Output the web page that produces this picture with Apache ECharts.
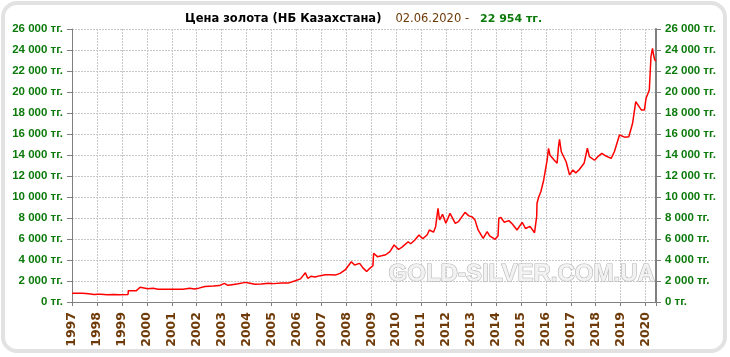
<!DOCTYPE html>
<html><head><meta charset="utf-8">
<script src="https://cdn.jsdelivr.net/npm/echarts@6/dist/echarts.min.js"></script>
<style>html,body{margin:0;padding:0;background:#fff}#c{width:730px;height:357px}</style>
</head><body><div id="c"></div>
<script>
var chartTitle = 'Цена золота (НБ Казахстана)';
var lastDate = '02.06.2020 -';
var lastPrice = '22 954 тг.';
var watermark = 'GOLD-SILVER.COM.UA';
var yearTicks = [1997,1998,1999,2000,2001,2002,2003,2004,2005,2006,2007,2008,2009,2010,2011,2012,2013,2014,2015,2016,2017,2018,2019,2020];

var dates = [
'1997-01-02','1997-03-10','1997-06-01','1997-06-15','1997-09-01','1997-11-20','1998-01-15','1998-03-01','1998-06-01','1998-09-01','1998-12-01',
'1999-04-01','1999-04-06','1999-08-01','1999-09-25','1999-10-20','2000-01-15','2000-02-10','2000-04-01','2000-06-15','2000-12-01','2001-06-15','2001-09-20','2001-12-01',
'2002-02-01','2002-05-01','2002-09-01','2002-12-01','2003-02-10','2003-04-01','2003-06-01','2003-09-01','2003-12-15','2004-02-01','2004-05-01','2004-08-01','2004-11-20',
'2005-02-01','2005-06-01','2005-09-01','2005-12-15','2006-03-01','2006-05-12','2006-06-15','2006-08-01','2006-10-01','2006-12-15','2007-03-01','2007-05-01','2007-08-01','2007-10-01','2007-12-15',
'2008-03-15','2008-05-01','2008-07-15','2008-09-01','2008-10-25','2008-12-01','2009-01-25','2009-02-05','2009-04-01','2009-06-01','2009-08-01','2009-10-01','2009-12-01',
'2010-02-05','2010-04-01','2010-06-25','2010-08-01','2010-10-01','2010-12-01','2011-01-25','2011-04-01','2011-05-01','2011-07-01','2011-08-01','2011-09-05','2011-09-28','2011-11-10','2011-12-29',
'2012-02-28','2012-05-15','2012-07-01','2012-10-05','2012-12-01','2013-01-20','2013-03-01','2013-04-15','2013-06-28','2013-08-25','2013-10-01','2013-12-20',
'2014-02-01','2014-02-12','2014-03-15','2014-05-01','2014-07-10','2014-09-01','2014-11-05','2015-01-20','2015-03-10','2015-05-15','2015-07-20','2015-08-20','2015-08-25','2015-09-20','2015-10-20','2015-12-01',
'2016-01-20','2016-02-10','2016-03-01','2016-05-01','2016-06-15','2016-07-05','2016-07-20','2016-08-15','2016-10-25','2016-12-15','2017-02-01','2017-03-15','2017-05-01','2017-07-15','2017-09-01','2017-10-01','2017-12-15',
'2018-02-01','2018-04-01','2018-06-01','2018-08-15','2018-10-01','2018-12-15','2019-03-01','2019-05-01','2019-06-25','2019-08-10','2019-09-05','2019-10-30','2019-12-15',
'2020-01-08','2020-02-25','2020-03-20','2020-04-12','2020-04-28','2020-05-15','2020-06-02'
];
var prices = [
830,840,830,790,795,720,740,735,700,720,700,
720,1080,1080,1400,1330,1270,1360,1300,1210,1220,1210,1300,1240,
1320,1480,1520,1560,1780,1590,1650,1740,1870,1810,1700,1720,1780,
1750,1800,1800,2030,2200,2790,2260,2450,2380,2510,2590,2600,2580,2730,3050,
3840,3520,3680,3250,2900,3150,3450,4640,4320,4400,4500,4790,5430,
5000,5250,5740,5550,5900,6380,6020,6400,6860,6650,7170,8920,7810,8350,7500,
8440,7490,7650,8540,8200,8100,7800,6860,6060,6700,6300,5970,
6300,7970,8050,7600,7750,7400,6860,7590,7000,7200,6600,8130,9400,10030,10500,11620,
13520,14640,14000,13520,13210,14790,15500,14310,13360,12100,12570,12300,12570,13210,14640,13840,13500,
13840,14160,13900,13680,14310,15900,15700,15740,17020,19080,19240,18290,18290,
19400,20190,23360,24160,23520,23050,22954
];

function toYear(s){
  var p = s.split('-').map(Number);
  var start = Date.UTC(p[0],0,1), end = Date.UTC(p[0]+1,0,1);
  return p[0] + (Date.UTC(p[0],p[1]-1,p[2]) - start)/(end-start);
}
var seriesData = dates.map(function(d,i){ return [toYear(d), prices[i]]; });
var xMax = toYear('2020-06-02');

function fmtY(v){
  if (v === 0) return '0 тг.';
  var s = String(v);
  return s.slice(0, s.length-3) + ' ' + s.slice(-3) + ' тг.';
}
var green = '#0b7a0b', brown = '#6e3a08';
var yLabel = {color: green, fontWeight: 'bold', fontSize: 11.5, fontFamily: 'Liberation Sans', formatter: fmtY};
var grid = {show:true, lineStyle:{color:'#c8c8c8', type:[2,1], width:1}};

var chart = echarts.init(document.getElementById('c'), null, {renderer:'canvas'});
chart.setOption({
  animation: false,
  backgroundColor: '#fff',
  title: {
    text: '{a|' + chartTitle + '}{b|' + lastDate + '}{c|' + lastPrice + '}',
    left: 180, top: 8,
    textStyle: {
      rich: {
        a: {fontFamily:'DejaVu Sans', fontWeight:'bold', fontSize:11.5, color:'#000', padding:[0,14,0,0]},
        b: {fontFamily:'DejaVu Sans', fontWeight:'normal', fontSize:11.5, color:brown, padding:[0,11,0,0]},
        c: {fontFamily:'DejaVu Sans', fontWeight:'bold', fontSize:11, color:green}
      }
    }
  },
  graphic: [
    {type:'rect', z:-10, shape:{x:3, y:3, width:722, height:348, r:14}, style:{fill:'none', stroke:'#e2e2e2', lineWidth:4}},
    {type:'text', z:1, left:388, top:262, style:{text:watermark, font:'bold 24px "Liberation Sans"', fill:'#f2f2f2', stroke:'#b5b5b5', lineWidth:1.2, shadowColor:'rgba(0,0,0,0.3)', shadowBlur:3, shadowOffsetX:1, shadowOffsetY:1}}
  ],
  grid: {left:72, right:74, top:29, bottom:55, containLabel:false},
  xAxis: {
    type:'value', min:1997, max:xMax, interval:1,
    axisLine:{show:true, lineStyle:{color:'#808080', width:1}},
    axisTick:{show:true, length:4, lineStyle:{color:'#808080'}},
    splitLine: grid,
    axisLabel:{rotate:90, margin:10, color:brown, fontWeight:'bold', fontSize:12.5, fontFamily:'DejaVu Sans',
      formatter:function(v){ return (Math.abs(v-Math.round(v))<1e-6 && yearTicks.indexOf(Math.round(v))>=0) ? String(Math.round(v)) : ''; }}
  },
  yAxis: [
    {type:'value', min:0, max:26000, interval:2000, position:'left',
     axisLine:{show:true, lineStyle:{color:'#808080', width:1}},
     axisTick:{show:true, length:5, lineStyle:{color:'#808080'}},
     splitLine: grid, axisLabel: Object.assign({margin:9}, yLabel)},
    {type:'value', min:0, max:26000, interval:2000, position:'right',
     axisLine:{show:true, lineStyle:{color:'#808080', width:2}},
     axisTick:{show:true, length:5, lineStyle:{color:'#808080'}},
     splitLine:{show:false}, axisLabel: Object.assign({margin:9}, yLabel)}
  ],
  series: [{
    type:'line', data: seriesData, showSymbol:false, symbol:'none',
    lineStyle:{color:'#ff0000', width:1.5}, z:5
  }]
});
</script></body></html>
